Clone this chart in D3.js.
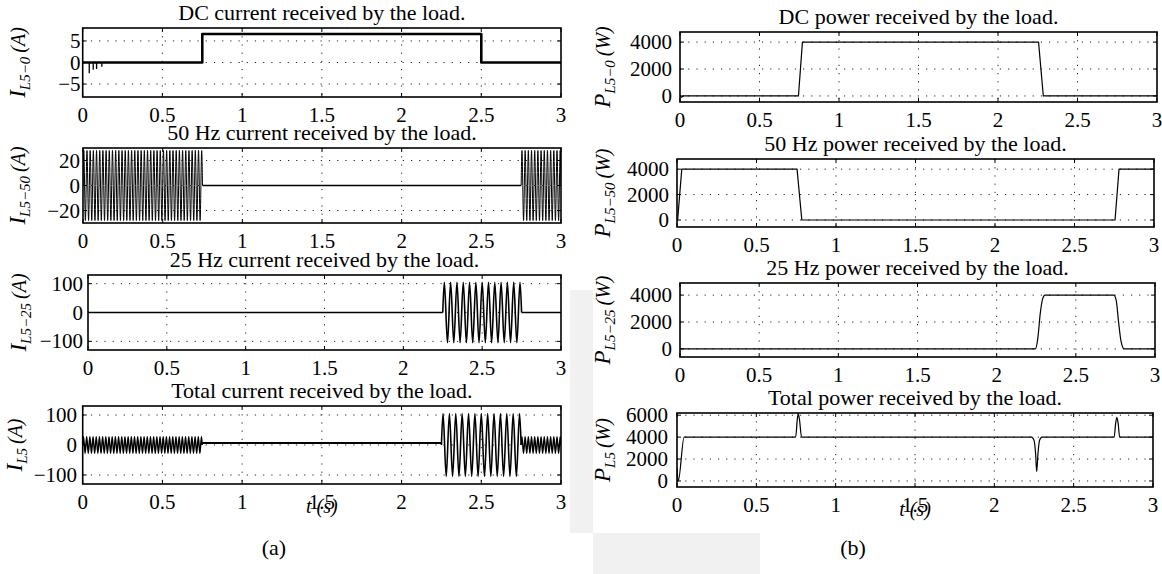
<!DOCTYPE html>
<html><head><meta charset="utf-8">
<script src="https://cdn.jsdelivr.net/npm/d3@7"></script>
<style>
html,body{margin:0;padding:0;background:#fff;}
svg{display:block;}
text{font-family:"Liberation Serif","DejaVu Serif","Noto Serif",serif;}
</style></head><body>
<svg id="fig" width="1162" height="574" font-family="Liberation Serif, DejaVu Serif, serif"></svg>
<script>
// ---- shared time axis ----
const xTicks = [0, 0.5, 1, 1.5, 2, 2.5, 3];
const xTickLabels = ["0", "0.5", "1", "1.5", "2", "2.5", "3"];

// ---- y tick values per panel ----
const yTicksDC = [-5, 0, 5];
const yTicks50 = [-20, 0, 20];
const yTicks25 = [-100, 0, 100];
const yTicksTot = [-100, 0, 100];
const yTicksP = [0, 2000, 4000];
const yTicksPTot = [0, 2000, 4000, 6000];

// ---- DC current (A) ----
const dcCurrentT = [0, 0.75, 0.75, 2.5, 2.5, 3];
const dcCurrentV = [0, 0, 6.6, 6.6, 0, 0];
// start-up transients on the DC current
const dcSpikeT = [0.041, 0.066, 0.087, 0.12];
const dcSpikeV = [-2.5, -1.7, -1.5, -1.0];

// ---- 50 Hz current bursts: peak value of each half cycle (A) ----
const cur50BurstA = [ // 0 - 0.75 s
  28,-28,28,-28,28,-28,28,-28,28,-28, 28,-28,28,-28,28,-28,28,-28,28,-28,
  28,-28,28,-28,28,-28,28,-28,28,-28, 28,-28,28,-28,28,-28,28,-28,28,-28,
  28,-28,28,-28,28,-28,28,-28,28,-28, 28,-28,28,-28,28,-28,28,-28,28,-28,
  28,-28,28,-28,28,-28,28,-28,28,-28, 28,-28,28,-28,28];
const cur50BurstB = [ // 2.75 - 3 s
  28,-28,28,-28,28,-28,28,-28,28,-28, 28,-28,28,-28,28,-28,28,-28,28,-28,
  28,-28,28,-28,28];
const burst50Start = [0, 2.75];
const halfCycle50 = 0.01;

// ---- 25 Hz current burst: peak value of each half cycle (A) ----
const cur25Burst = [ // 2.25 - 2.75 s
  105,-105,105,-105,105,-105,105,-105,105,-105, 105,-105,105,-105,105,-105,
  105,-105,105,-105,105,-105,105,-105,105];
const burst25Start = 2.25;
const halfCycle25 = 0.02;

// ---- powers (W) ----
const pDCT = [0, 0.01, 0.02, 0.745, 0.77, 2.255, 2.285, 3];
const pDCV = [0, -90, 0, 0, 4000, 4000, 0, 0];

const p50T = [0, 0.004, 0.03, 0.755, 0.785, 2.755, 2.78, 3];
const p50V = [0, 0, 4000, 4000, 0, 0, 4000, 4000];

const p25T = [0, 2.245, 2.26, 2.275, 2.29, 2.305, 2.74, 2.755, 2.77, 2.785, 2.805, 3];
const p25V = [0, 0, 800, 2600, 3700, 4000, 4000, 3600, 2000, 600, 0, 0];

const pTotT = [0, 0.008, 0.045, 0.748, 0.758, 0.764, 0.772, 0.785, 2.235, 2.25, 2.26, 2.267,
               2.275, 2.285, 2.30, 2.755, 2.765, 2.772, 2.78, 2.79, 3];
const pTotV = [1200, 0, 4000, 4000, 5600, 6150, 5600, 4000, 4000, 3700, 2500, 850,
               2500, 3700, 4000, 4000, 5300, 5800, 5300, 4000, 4000];

// ---- helpers ----
const zip = (ts, vs) => ts.map((t, i) => [t, vs[i]]);

// oscillation burst as a sequence of half-cycle peaks, starting and ending on the base level
function burst(t0, half, peaks, base) {
  const pts = [[t0, base]];
  peaks.forEach((p, i) => pts.push([t0 + half * (i + 0.5), base + p]));
  pts.push([t0 + half * peaks.length, base]);
  return pts;
}

const b50A = burst(burst50Start[0], halfCycle50, cur50BurstA, 0);
const b50B = burst(burst50Start[1], halfCycle50, cur50BurstB, 0);
const b25 = burst(burst25Start, halfCycle25, cur25Burst, 0);

const SERIF = "Liberation Serif, DejaVu Serif, serif";

const panels = [
  { x0: 82.7, x1: 561, y0: 28, y1: 97, dom: [-8, 8], ticks: yTicksDC, tickEnd: 80.5,
    title: "DC current received by the load.", sym: "I", sub: "L5\u22120", unit: "(A)", labX: 25,
    series: [{ pts: zip(dcCurrentT, dcCurrentV), w: 2.6, curve: d3.curveLinear }],
    spikes: zip(dcSpikeT, dcSpikeV) },
  { x0: 83, x1: 561, y0: 148, y1: 223, dom: [-30, 30], ticks: yTicks50, tickEnd: 80,
    title: "50 Hz current received by the load.", sym: "I", sub: "L5\u221250", unit: "(A)", labX: 25,
    series: [{ pts: b50A, w: 1, curve: d3.curveMonotoneX },
             { pts: [[0.75, 0], [2.75, 0]], w: 1.5, curve: d3.curveLinear },
             { pts: b50B, w: 1, curve: d3.curveMonotoneX }] },
  { x0: 88, x1: 561, y0: 275, y1: 350, dom: [-130, 130], ticks: yTicks25, tickEnd: 83,
    title: "25 Hz current received by the load.", sym: "I", sub: "L5\u221225", unit: "(A)", labX: 26,
    series: [{ pts: [[0, 0], [2.25, 0]], w: 1.4, curve: d3.curveLinear },
             { pts: b25, w: 1.6, curve: d3.curveMonotoneX },
             { pts: [[2.75, 0], [3, 0]], w: 1.4, curve: d3.curveLinear }] },
  { x0: 82.7, x1: 561, y0: 406, y1: 484, dom: [-130, 130], ticks: yTicksTot, tickEnd: 77,
    title: "Total current received by the load.", sym: "I", sub: "L5", unit: "(A)", labX: 22,
    series: [{ pts: b50A, w: 1.4, curve: d3.curveMonotoneX },
             { pts: [[0.75, 6.6], [2.25, 6.6]], w: 1.8, curve: d3.curveLinear },
             { pts: b25, w: 1.6, curve: d3.curveMonotoneX },
             { pts: b50B, w: 1.4, curve: d3.curveMonotoneX }],
    xlabel: true, tag: "(a)", tagX: 274 },
  { x0: 680, x1: 1157, y0: 32, y1: 102, dom: [-450, 4750], ticks: yTicksP, tickEnd: 672,
    title: "DC power received by the load.", sym: "P", sub: "L5\u22120", unit: "(W)", labX: 610,
    series: [{ pts: zip(pDCT, pDCV), w: 1.2, curve: d3.curveLinear }] },
  { x0: 677, x1: 1154, y0: 159, y1: 227, dom: [-550, 4800], ticks: yTicksP, tickEnd: 669,
    title: "50 Hz power received by the load.", sym: "P", sub: "L5\u221250", unit: "(W)", labX: 610,
    series: [{ pts: zip(p50T, p50V), w: 1.2, curve: d3.curveLinear }] },
  { x0: 680, x1: 1155, y0: 283, y1: 357, dom: [-600, 4900], ticks: yTicksP, tickEnd: 672,
    title: "25 Hz power received by the load.", sym: "P", sub: "L5\u221225", unit: "(W)", labX: 610,
    series: [{ pts: zip(p25T, p25V), w: 1.2, curve: d3.curveMonotoneX }] },
  { x0: 677, x1: 1153, y0: 413, y1: 487, dom: [-550, 6200], ticks: yTicksPTot, tickEnd: 668,
    title: "Total power received by the load.", sym: "P", sub: "L5", unit: "(W)", labX: 610,
    series: [{ pts: zip(pTotT, pTotV), w: 1.2, curve: d3.curveMonotoneX }],
    xlabel: true, tag: "(b)", tagX: 853 }
];

const svg = d3.select("#fig");

// faint background shading behind the lower panels
const shade = svg.append("g").attr("fill", "#f1f1f1");
shade.append("rect").attr("x", 570).attr("y", 290).attr("width", 23).attr("height", 243);
shade.append("rect").attr("x", 593).attr("y", 533).attr("width", 167).attr("height", 41);

const fmt = v => (v < 0 ? "\u2212" + Math.abs(v) : String(v));
const txt = (sel) => sel.append("text").attr("font-family", SERIF);

panels.forEach((p, k) => {
  const g = svg.append("g");
  const x = d3.scaleLinear().domain([0, 3]).range([p.x0, p.x1]);
  const y = d3.scaleLinear().domain(p.dom).range([p.y1, p.y0]);
  const clipId = "clip" + k;
  svg.append("clipPath").attr("id", clipId).append("rect")
    .attr("x", p.x0).attr("y", p.y0).attr("width", p.x1 - p.x0).attr("height", p.y1 - p.y0);

  // white plot area
  g.append("rect").attr("x", p.x0).attr("y", p.y0).attr("width", p.x1 - p.x0)
    .attr("height", p.y1 - p.y0).attr("fill", "#fff");

  // dotted grid
  const grid = g.append("g").attr("stroke", "#222").attr("stroke-width", 1)
    .attr("stroke-dasharray", "1.2,7").attr("fill", "none");
  xTicks.slice(1, -1).forEach(t => grid.append("line")
    .attr("x1", x(t)).attr("x2", x(t)).attr("y1", p.y0).attr("y2", p.y1));
  p.ticks.forEach(v => grid.append("line")
    .attr("x1", p.x0).attr("x2", p.x1).attr("y1", y(v)).attr("y2", y(v)));

  // traces
  const plot = g.append("g").attr("clip-path", `url(#${clipId})`);
  p.series.forEach(s => {
    const line = d3.line().x(d => x(d[0])).y(d => y(d[1])).curve(s.curve);
    plot.append("path").attr("d", line(s.pts)).attr("fill", "none")
      .attr("stroke", "#000").attr("stroke-width", s.w).attr("stroke-linejoin", "round");
  });
  if (p.spikes) {
    p.spikes.forEach(d => plot.append("line")
      .attr("x1", x(d[0])).attr("x2", x(d[0])).attr("y1", y(0)).attr("y2", y(d[1]))
      .attr("stroke", "#000").attr("stroke-width", 1.3));
  }

  // tick marks on all four sides
  const tk = g.append("g").attr("stroke", "#000").attr("stroke-width", 1);
  xTicks.forEach(t => {
    tk.append("line").attr("x1", x(t)).attr("x2", x(t)).attr("y1", p.y1).attr("y2", p.y1 - 4);
    tk.append("line").attr("x1", x(t)).attr("x2", x(t)).attr("y1", p.y0).attr("y2", p.y0 + 4);
  });
  p.ticks.forEach(v => {
    tk.append("line").attr("x1", p.x0).attr("x2", p.x0 + 4).attr("y1", y(v)).attr("y2", y(v));
    tk.append("line").attr("x1", p.x1).attr("x2", p.x1 - 4).attr("y1", y(v)).attr("y2", y(v));
  });

  // frame
  g.append("rect").attr("x", p.x0).attr("y", p.y0).attr("width", p.x1 - p.x0)
    .attr("height", p.y1 - p.y0).attr("fill", "none").attr("stroke", "#000").attr("stroke-width", 1.6);

  // tick labels
  xTicks.forEach((t, i) => txt(g).attr("x", x(t)).attr("y", p.y1 + 25)
    .attr("text-anchor", "middle").attr("font-size", 21).text(xTickLabels[i]));
  p.ticks.forEach(v => txt(g).attr("x", p.tickEnd).attr("y", y(v))
    .attr("dy", "0.34em").attr("text-anchor", "end").attr("font-size", 21).text(fmt(v)));

  // title
  txt(g).attr("x", (p.x0 + p.x1) / 2).attr("y", p.y0 - 8)
    .attr("text-anchor", "middle").attr("font-size", 22).text(p.title);

  // y label
  const lab = txt(g)
    .attr("transform", `translate(${p.labX},${(p.y0 + p.y1) / 2}) rotate(-90)`)
    .attr("text-anchor", "middle").attr("font-style", "italic");
  lab.append("tspan").attr("font-size", 23).text(p.sym);
  lab.append("tspan").attr("font-size", 15).attr("dy", 5).text(p.sub);
  lab.append("tspan").attr("font-size", 20).attr("dy", -5).text("\u2009" + p.unit);

  if (p.xlabel) {
    txt(g).attr("x", (p.x0 + p.x1) / 2).attr("y", p.y1 + 29)
      .attr("text-anchor", "middle").attr("font-size", 20).attr("font-style", "italic").text("t (s)");
    txt(g).attr("x", p.tagX).attr("y", 555)
      .attr("text-anchor", "middle").attr("font-size", 22).text(p.tag);
  }
});
</script>
</body></html>
